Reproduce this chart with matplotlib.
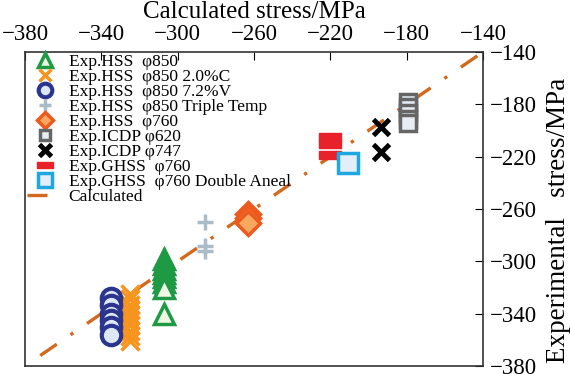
import numpy as np
import matplotlib
matplotlib.use("Agg")
import matplotlib.pyplot as plt

plt.rcParams['font.family'] = ['Liberation Serif', 'DejaVu Serif']

# calculated stress (x) vs experimental stress (y), MPa
hss850_x = [-307, -307, -307, -307, -307, -307, -307, -307]
hss850_y = [-298, -302, -306, -309, -312, -316, -320, -340]
hss850c_x = [-325] * 10
hss850c_y = [-325, -329, -333, -337, -341, -345, -349, -353, -357, -361]
hss850v_x = [-335] * 6
hss850v_y = [-328, -333, -340, -345, -350, -356]
hss850t_x = [-285.5, -285.5, -285.5]
hss850t_y = [-270, -288, -292]
hss760_x = [-263, -263, -263]
hss760_y = [-264, -267, -271]
icdp620_x = [-179.5, -179.5, -179.5, -179.5, -179.5]
icdp620_y = [-178, -182, -187, -191, -194]
icdp747_x = [-193.5, -193.5]
icdp747_y = [-197, -216.5]
ghss760_x = [-220, -220, -220]
ghss760_y = [-205, -210, -219]
ghss760d_x = [-210.5]
ghss760d_y = [-225]
calc_x = [-372, -140]
calc_y = [-372, -140]

x_ticks = [-380, -340, -300, -260, -220, -180, -140]
y_ticks = [-380, -340, -300, -260, -220, -180, -140]

fig = plt.figure(figsize=(5.7, 3.74), dpi=100)
ax = fig.add_axes([25/570, 8/374, 458/570, 314/374])

bar = [(-1, -0.38), (1, -0.38), (1, 0.38), (-1, 0.38), (-1, -0.38)]

ax.plot(hss850_x, hss850_y, ls='none', marker='^', ms=14, mec='#1f9a44', mfc='#eef7e4', mew=2.5,
        label='Exp.HSS  φ850')
ax.plot(hss850c_x, hss850c_y, ls='none', marker='x', ms=13, mec='#f7941d', mew=2.5,
        label='Exp.HSS  φ850 2.0%C')
ax.plot(hss850v_x, hss850v_y, ls='none', marker='o', ms=14, mec='#2b3590', mfc='#dde8f5', mew=3,
        label='Exp.HSS  φ850 7.2%V')
ax.plot(hss850t_x, hss850t_y, ls='none', marker='+', ms=12, mec='#a9bcc8', mew=2.5,
        label='Exp.HSS  φ850 Triple Temp')
ax.plot(hss760_x, hss760_y, ls='none', marker='D', ms=12, mec='#ee5a1e', mfc='#f9a85e', mew=2.5,
        label='Exp.HSS  φ760')
ax.plot(icdp620_x, icdp620_y, ls='none', marker='s', ms=11, mec='#666666', mfc='#e6edf4', mew=2.5,
        label='Exp.ICDP φ620')
ax.plot(icdp747_x, icdp747_y, ls='none', marker='x', ms=12, mec='black', mew=3.5,
        label='Exp.ICDP φ747')
ax.plot(ghss760_x, ghss760_y, ls='none', marker=bar, ms=16, mec='#e8212b', mfc='#e8212b', mew=1,
        label='Exp.GHSS  φ760')
ax.plot(ghss760d_x, ghss760d_y, ls='none', marker='s', ms=14, mec='#1ea7e1', mfc='#e4eef8', mew=2.5,
        label='Exp.GHSS  φ760 Double Aneal')
ax.plot(calc_x, calc_y, color='#d2691e', lw=2.4, ls=(0, (6, 5, 1, 5)), label='Calculated', zorder=1)

ax.set_xlim(-378, -140)
ax.set_ylim(-380, -140)
ax.xaxis.tick_top()
ax.yaxis.tick_right()
ax.set_xticks(x_ticks)
ax.set_yticks(y_ticks)
ax.tick_params(direction='in', length=6, labelsize=16.5, pad=5)
for s in ax.spines.values():
    s.set_linewidth(1.2)
    s.set_color('#333333')

# axis titles
fig.text(254/570, 1 - 18/374, 'Calculated stress/MPa', fontsize=18, ha='center', va='baseline')
fig.text(565/570, 1 - 220/374, 'Experimental   stress/MPa', fontsize=19.5, rotation=90,
         rotation_mode='anchor', ha='center', va='baseline')

leg = ax.legend(loc='upper left', bbox_to_anchor=(2/458, 1 - 2/314), frameon=False, fontsize=12.5,
                handlelength=2.1, handletextpad=0.3, labelspacing=-0.07, borderaxespad=0,
                borderpad=0, markerscale=0.7)

fig.savefig('out.png', dpi=100)
